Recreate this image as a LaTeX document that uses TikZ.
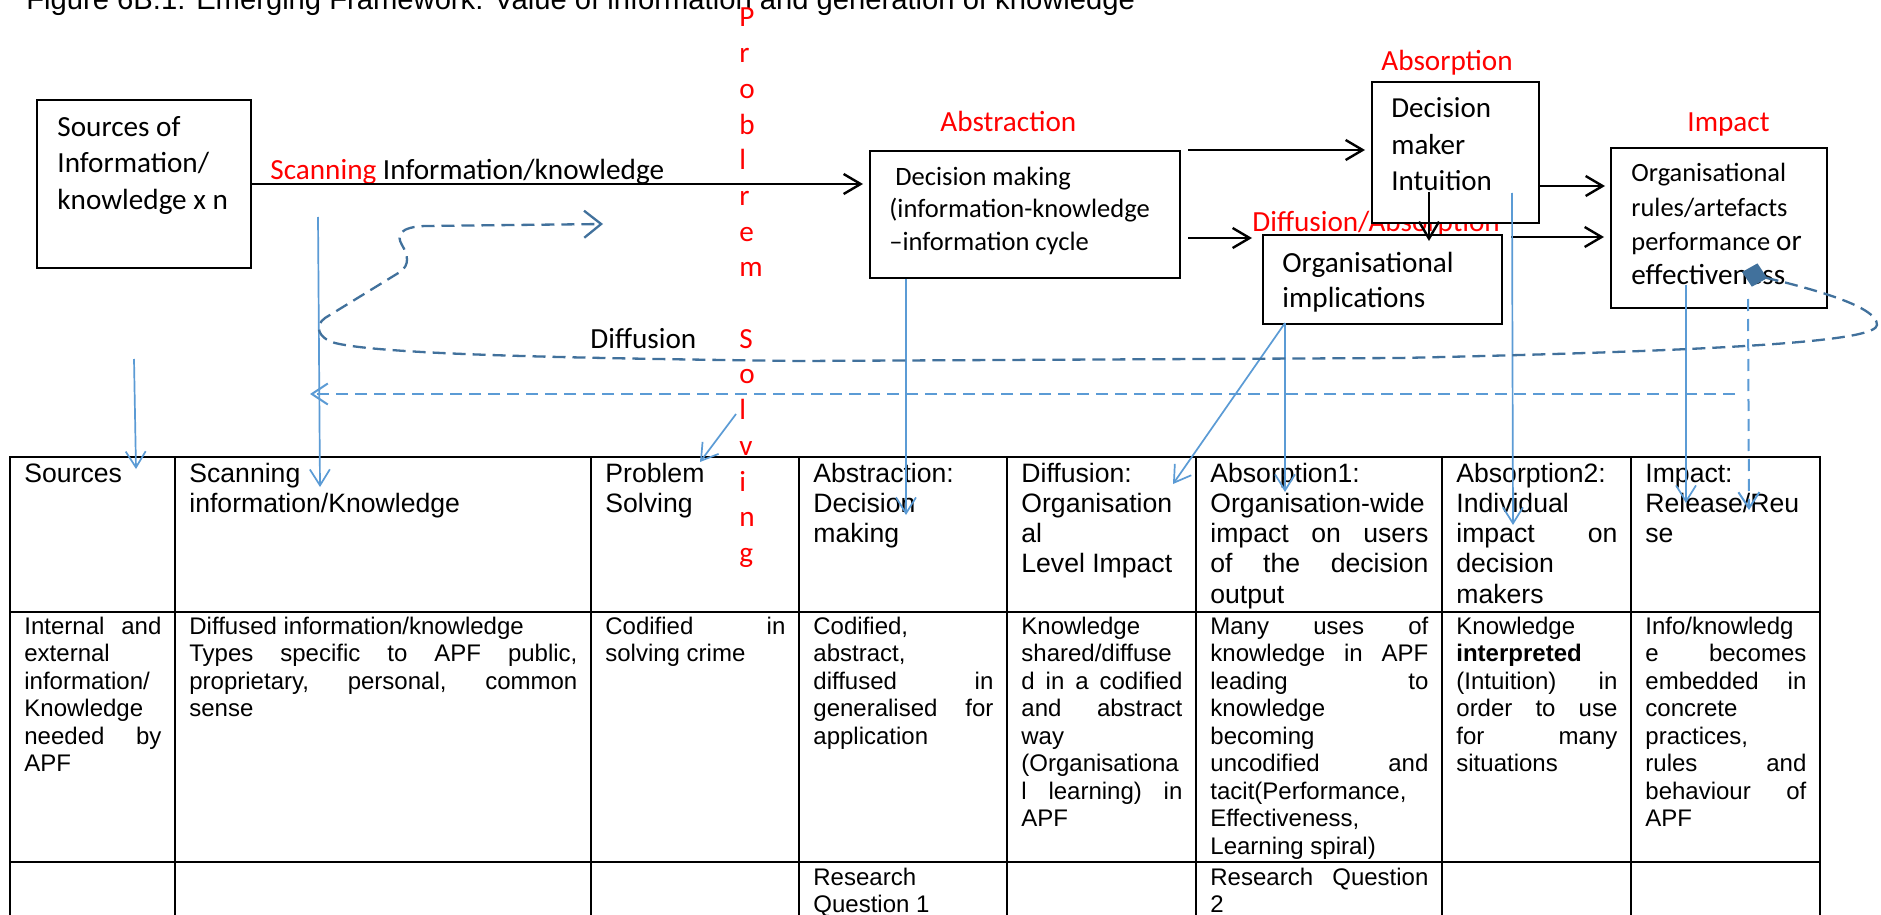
\documentclass[tikz,border=0pt]{standalone}
\usepackage{fontspec}
\setmainfont{Liberation Sans}
\newfontfamily\calfont{Carlito}
\usetikzlibrary{arrows.meta,calc}

\definecolor{accblue}{HTML}{5B9BD5}
\definecolor{deepblue}{HTML}{41719C}
\definecolor{lblred}{HTML}{FF0000}

% justified line of a table cell
\newcommand\jl[1]{\makebox[\linewidth][s]{#1}}
\newcommand\hdrfont{\fontsize{13.3}{15.15}\selectfont}
\newcommand\bodyfont{\fontsize{12}{13.75}\selectfont}
\newcommand\cellpar[2]{\parbox[t]{#1}{\raggedright #2}}
\newcommand\calA{\calfont\fontsize{14.6}{18}\selectfont}

\begin{document}
\begin{tikzpicture}[x=0.5pt,y=-0.5pt,
  txt/.style={inner sep=0pt, anchor=base west},
  hcell/.style={txt, font=\hdrfont},
  bcell/.style={txt, font=\bodyfont},
  redlbl/.style={txt, font=\calA, text=lblred},
  boxnode/.style={draw, line width=1pt, fill=white, inner sep=0pt, anchor=north west},
  tblline/.style={line width=1.1pt, line cap=rect},
  blk/.style={line width=1.2pt, -{Straight Barb[length=8.5pt,width=10pt]}},
  bl/.style={accblue, line width=0.85pt, -{Straight Barb[length=8pt,width=10pt]}},
  bldash/.style={accblue, line width=1pt, dash pattern=on 6pt off 3.5pt,
    -{Straight Barb[length=8pt,width=10.5pt]}},
  loopline/.style={deepblue, line width=1.15pt, dash pattern=on 6.5pt off 3.5pt,
    {Diamond[length=13pt,width=12pt]}-{Straight Barb[length=8.5pt,width=13.5pt]}}
]
\useasboundingbox (0,0) rectangle (1881,915);
\fill[white] (0,0) rectangle (1881,915);
\clip (0,0) rectangle (1881,915);

% caption
\node[txt, font=\fontsize{14.6}{17}\selectfont] (caption) at (26,10)
  {Figure 6B.1: Emerging Framework: Value of information and generation of knowledge};

% vertical red text
\node[txt, font=\calfont\fontsize{14.6}{17.85}\selectfont, text=lblred] (probsolv) at (739,27)
  {\parbox[t]{20pt}{\raggedright P\\r\\o\\b\\l\\r\\e\\m\\\mbox{}\\S\\o\\l\\v\\i\\n\\g}};

% table grid
\foreach \yy in {457,612,862} \draw[tblline] (10,\yy) -- (1820,\yy);
\foreach \xx in {10,175,591,799,1007,1196,1442,1631,1820} \draw[tblline] (\xx,457) -- (\xx,935);

% header row
\node[hcell] (h1) at (24,482)   {\cellpar{68.5pt}{Sources}};
\node[hcell] (h2) at (189,482)  {\cellpar{194pt}{Scanning\\information/Knowledge}};
\node[hcell] (h3) at (605,482)  {\cellpar{90pt}{Problem\\Solving}};
\node[hcell] (h4) at (813,482)  {\cellpar{90pt}{Abstraction:\\Decision\\making}};
\node[hcell] (h5) at (1021,482) {\cellpar{80.5pt}{Diffusion:\\Organisation\\al\\Level Impact}};
\node[hcell] (h6) at (1210,482) {\cellpar{109pt}{Absorption1:\\Organisation-wide\\\jl{impact on users}\\\jl{of the decision}\\output}};
\node[hcell] (h7) at (1456,482) {\cellpar{80.5pt}{Absorption2:\\Individual\\\jl{impact on}\\decision\\makers}};
\node[hcell] (h8) at (1645,482) {\cellpar{80.5pt}{Impact:\\Release/Reu\\se}};

% body row
\node[bcell] (b1) at (24,634)   {\cellpar{68.5pt}{\jl{Internal and}\\external\\information/\\Knowledge\\\jl{needed by}\\APF}};
\node[bcell] (b2) at (189,634)  {\cellpar{194pt}{Diffused information/knowledge\\\jl{Types specific to APF public,}\\\jl{proprietary, personal, common}\\sense}};
\node[bcell] (b3) at (605,634)  {\cellpar{90pt}{\jl{Codified in}\\solving crime}};
\node[bcell] (b4) at (813,634)  {\cellpar{90pt}{Codified,\\abstract,\\\jl{diffused in}\\\jl{generalised for}\\application}};
\node[bcell] (b5) at (1021,634) {\cellpar{80.5pt}{Knowledge\\shared/diffuse\\\jl{d in a codified}\\\jl{and abstract}\\way\\(Organisationa\\\jl{l learning) in}\\APF}};
\node[bcell] (b6) at (1210,634) {\cellpar{109pt}{\jl{Many uses of}\\\jl{knowledge in APF}\\\jl{leading to}\\knowledge\\becoming\\\jl{uncodified and}\\tacit(Performance,\\Effectiveness,\\Learning spiral)}};
\node[bcell] (b7) at (1456,634) {\cellpar{80.5pt}{Knowledge\\\textbf{interpreted}\\\jl{(Intuition) in}\\\jl{order to use}\\\jl{for many}\\situations}};
\node[bcell] (b8) at (1645,634) {\cellpar{80.5pt}{Info/knowledg\\\jl{e becomes}\\\jl{embedded in}\\concrete\\practices,\\\jl{rules and}\\\jl{behaviour of}\\APF}};

% last row
\node[bcell] (r4) at (813,885)  {\cellpar{90pt}{Research\\Question 1}};
\node[bcell] (r6) at (1210,885) {\cellpar{109pt}{\jl{Research Question}\\2}};

% stage labels
\node[redlbl] (lababs)   at (940,132)  {Abstraction};
\node[redlbl] (labsorb)  at (1381,71)  {Absorption};
\node[redlbl] (labimp)   at (1687,132) {Impact};
\node[redlbl] (labdiffa) at (1252,231) {Diffusion/Absorption};
\node[txt, font=\calA] (labdiff) at (590,348) {Diffusion};
\node[txt, font=\calA] (labscan) at (270,179) {\textcolor{lblred}{Scanning} Information/knowledge};

% boxes
\node[boxnode, minimum width=107pt,   minimum height=84pt]   (src) at (36,99) {};
\node[boxnode, minimum width=155pt,   minimum height=63.5pt] (dm)  at (869,150) {};
\node[boxnode, minimum width=83.5pt,  minimum height=70.5pt] (dmi) at (1371,81) {};
\node[boxnode, minimum width=119.5pt, minimum height=44.5pt] (org) at (1262,234) {};
\node[boxnode, minimum width=108pt,   minimum height=80pt]   (imp) at (1610,147) {};

\node[txt, font=\calA] (srctxt) at (57,137)
  {\parbox[t]{100pt}{\raggedright Sources of\\Information/\\knowledge x n}};
\node[txt, font=\calfont\fontsize{13.25}{16.25}\selectfont] (dmtxt) at (889,185)
  {\parbox[t]{150pt}{\raggedright \hspace*{3pt}Decision making\\(information-knowledge\\–information cycle}};
\node[txt, font=\calfont\fontsize{14.5}{18.25}\selectfont] (dmitxt) at (1391,118)
  {\parbox[t]{80pt}{\raggedright Decision\\maker\\Intuition}};
\node[txt, font=\calfont\fontsize{14.6}{17.5}\selectfont] (orgtxt) at (1282,272)
  {\parbox[t]{110pt}{\raggedright Organisational\\implications}};
\node[txt, font=\calfont\fontsize{13.2}{17.15}\selectfont] (imptxt) at (1631,182)
  {\parbox[t]{100pt}{\raggedright Organisational\\rules/artefacts\\performance {\fontsize{14.6}{17.15}\selectfont or}\\{\fontsize{14.6}{17.15}\selectfont effectiveness}}};

% black flow arrows
\coordinate (ylow) at (0,238);
\coordinate (yimpA) at (0,186);
\coordinate (yimpB) at (0,237);
\coordinate (xdown) at (1429,0);
\draw[blk, shorten >=3pt] (src.east) -- (src.east -| dm.west);
\draw[blk, shorten <=3.5pt, shorten >=3pt] (dm.north east) -- (dm.north east -| dmi.west);
\draw[blk, shorten <=3.5pt, shorten >=5pt] (dm.east |- ylow) -- (org.west |- ylow);
\draw[blk, shorten >=2.5pt] (dmi.east |- yimpA) -- (imp.west |- yimpA);
\draw[blk, shorten <=4pt, shorten >=3pt] (org.east |- yimpB) -- (imp.west |- yimpB);
\draw[blk] (xdown |- 0,192) coordinate (vdA) -- ($(xdown |- org.north)+(0,7)$);

% blue stage arrows into the table
\coordinate (sA) at (134,359);   \coordinate (sB) at (136,469);
\coordinate (scA) at (318,217);  \coordinate (scB) at (320,487);
\coordinate (psA) at (736,414);  \coordinate (psB) at (700,462);
\coordinate (abB) at (906,515);
\coordinate (orgA) at (1285,323);
\coordinate (dfB) at (1173,484);
\coordinate (a1B) at (1285,492);
\coordinate (a2A) at (1512,193); \coordinate (a2B) at (1513,525);
\coordinate (ipA) at (1686,285); \coordinate (ipB) at (1686,503);
\coordinate (rrA) at (1748,299); \coordinate (rrB) at (1749,510);
\draw[bl] (sA) -- (sB);
\draw[bl] (scA) -- (scB);
\draw[bl] (psA) -- (psB);
\draw[bl] (dm.south -| abB) -- (abB);
\draw[bl] (orgA) -- (dfB);
\draw[bl] (orgA) -- (a1B);
\draw[bl] (a2A) -- (a2B);
\draw[bl] (ipA) -- (ipB);
\draw[bldash, dash pattern=on 6pt off 4pt] (rrA) -- (rrB);

% feedback to scanning
\coordinate (fbA) at (1735,394); \coordinate (fbB) at (310,394);
\draw[bldash] (fbA) -- (fbB);

% diffusion loop
\coordinate (lpA) at (1742,272);
\coordinate (lpB) at (603,224);
\draw[loopline] (lpA) .. controls (1800,286) and (1878,305) .. (1877,325)
  .. controls (1876,340) and (1760,350) .. (1400,358) -- (800,361)
  .. controls (550,358) and (380,354) .. (335,343)
  .. controls (318,338) and (314,326) .. (325,318) -- (400,272)
  .. controls (410,265) and (408,255) .. (402,245)
  .. controls (396,235) and (400,227) .. (425,226) -- (lpB);
\end{tikzpicture}
\end{document}
